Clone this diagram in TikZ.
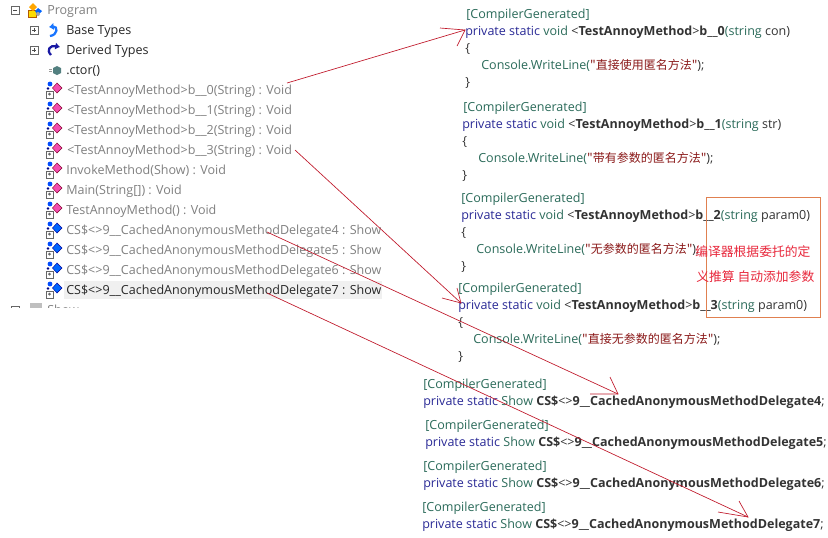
\documentclass[tikz,border=0pt]{standalone}
\usepackage{fontspec}
\setmainfont{Open Sans}
\newfontfamily\cjk{Noto Sans CJK SC}
\usetikzlibrary{arrows.meta}
\definecolor{greytxt}{HTML}{808080}
\definecolor{kw}{HTML}{2A2A96}
\definecolor{ty}{HTML}{2B6B5A}
\definecolor{str}{HTML}{8B1A1A}
\definecolor{redline}{HTML}{C0182A}
\definecolor{boxline}{HTML}{E08050}
\definecolor{note}{HTML}{E8283C}
\newcommand{\kwd}[1]{\textcolor{kw}{#1}}
\newcommand{\typ}[1]{\textcolor{ty}{#1}}
\newcommand{\strg}[1]{\textcolor{str}{{\fontsize{9pt}{11pt}\cjk #1}}}
\tikzset{
  x=0.75pt,y=-0.75pt,
  tree/.style={anchor=base west,inner sep=0pt,font=\fontsize{9.4pt}{11pt}\selectfont,text=greytxt},
  treeblack/.style={tree,text=black!85},
  code/.style={anchor=base west,inner sep=0pt,font=\fontsize{9.4pt}{11pt}\selectfont,text=black!80},
  notetxt/.style={anchor=base west,inner sep=0pt,font=\fontsize{9.6pt}{11pt}\cjk,text=note},
  pointer/.style={draw=redline,line width=0.5pt},
  expander/.style={draw=black!60,fill=white,line width=0.5pt},
}
\newcommand{\expbox}[3]{%
  \draw[expander] (#1-4,#2-4) rectangle (#1+4,#2+4);
  \draw[black!70,line width=0.5pt] (#1-2,#2) -- (#1+2,#2);
  \ifnum#3=1 \draw[black!70,line width=0.5pt] (#1,#2-2) -- (#1,#2+2);\fi}
\newcommand{\badge}[2]{%
  \fill[blue!70!cyan] (#1-2,#2-6) circle (2.4);
  \draw[black!60,fill=white,line width=0.4pt] (#1-6,#2+1) rectangle (#1+1,#2+8);
  \fill[blue!50!black] (#1-4,#2-1.5) circle (1.4);
  \fill[black!60] (#1-2.5,#2+4) circle (1.5);}
\newcommand{\methicon}[2]{%
  \badge{#1}{#2}
  \fill[magenta!70!white,draw=purple!70!black,line width=0.3pt] (#1+5,#2-7) -- (#1+10,#2-2) -- (#1+5,#2+3) -- (#1+0.5,#2-2) -- cycle;}
\newcommand{\fieldicon}[2]{%
  \badge{#1}{#2}
  \fill[blue!60!cyan,draw=blue!60!black,line width=0.3pt] (#1+5,#2-7) -- (#1+10,#2-2) -- (#1+5,#2+3) -- (#1+0.5,#2-2) -- cycle;}
\begin{document}
\begin{tikzpicture}
\useasboundingbox (0,0) rectangle (828,537);
\fill[white] (0,0) rectangle (828,537);
% tree
\expbox{15}{10}{0}
\fill[yellow!80!orange,draw=orange!70!black,line width=0.3pt] (28,10) rectangle (36,17);
\fill[orange!70!yellow] (33,3) -- (37,7) -- (33,11) -- (29,7) -- cycle;
\fill[blue!60!cyan] (38,8) -- (42,11) -- (38,15) -- (35,11) -- cycle;
\fill[gray!70] (38,14) circle (2);
\node[tree] (prog) at (47,14) {Program};
\expbox{34}{30}{1}
\draw[blue!60!cyan!90,line width=1.7pt,-{Latex[length=3.5pt,width=5.5pt]}] (50,36) .. controls (58,35) and (58,26) .. (49,27);
\node[treeblack] (base) at (66,34) {Base Types};
\expbox{34}{50}{1}
\draw[blue!60!black!90,line width=1.7pt,-{Latex[length=3.5pt,width=5.5pt]}] (51,55) .. controls (46,50) and (50,45) .. (60,47);
\node[treeblack] (derived) at (66,54) {Derived Types};
\fill[teal!35!gray] (57,66) -- (61,68) -- (61,73) -- (57,75) -- (53,73) -- (53,68) -- cycle;
\draw[black!40,line width=0.4pt] (49,69) -- (52,69) (49,71) -- (52,71);
\node[treeblack] (ctor) at (66,74) {.ctor()};
\methicon{52}{90}\node[tree] (m0) at (67,94) {<TestAnnoyMethod>b\_\_0(String) : Void};
\methicon{52}{110}\node[tree] (m1) at (67,114) {<TestAnnoyMethod>b\_\_1(String) : Void};
\methicon{52}{130}\node[tree] (m2) at (67,134) {<TestAnnoyMethod>b\_\_2(String) : Void};
\methicon{52}{150}\node[tree] (m3) at (67,154) {<TestAnnoyMethod>b\_\_3(String) : Void};
\methicon{52}{170}\node[tree] (m4) at (66,174) {InvokeMethod(Show) : Void};
\methicon{52}{190}\node[tree] (m5) at (66,194) {Main(String[]) : Void};
\methicon{52}{210}\node[tree] (m6) at (66,214) {TestAnnoyMethod() : Void};
\fieldicon{52}{230}\node[tree] (f4) at (66,234) {CS\$<>9\_\_CachedAnonymousMethodDelegate4 : Show};
\fieldicon{52}{250}\node[tree] (f5) at (66,254) {CS\$<>9\_\_CachedAnonymousMethodDelegate5 : Show};
\fieldicon{52}{270}\node[tree] (f6) at (66,274) {CS\$<>9\_\_CachedAnonymousMethodDelegate6 : Show};
\fill[black!6] (64,281) rectangle (382,299);
\fieldicon{52}{290}\node[treeblack] (f7) at (66,294) {CS\$<>9\_\_CachedAnonymousMethodDelegate7 : Show};
\begin{scope}
\clip (0,300) rectangle (200,307);
\expbox{15}{310}{1}
\fill[gray!50] (30,303) rectangle (42,312);
\node[tree] (show) at (47,314) {Show};
\end{scope}
% code blocks
\node[code] (a0) at (466,18) {\typ{[CompilerGenerated]}};
\node[code] (s0) at (465,35) {\kwd{private static} \typ{void} <\textbf{TestAnnoyMethod}>\textbf{b\_\_0}\typ{(string} con)};
\node[code] (o0) at (465,52) {\{};
\node[code] (w0) at (481,69) {\typ{Console.WriteLine(}\strg{"直接使用匿名方法"});};
\node[code] (c0) at (465,86) {\}};
\node[code] (a1) at (463,111) {\typ{[CompilerGenerated]}};
\node[code] (s1) at (462,128) {\kwd{private static} \typ{void} <\textbf{TestAnnoyMethod}>\textbf{b\_\_1}\typ{(string} str)};
\node[code] (o1) at (462,145) {\{};
\node[code] (w1) at (478,162) {\typ{Console.WriteLine(}\strg{"带有参数的匿名方法"});};
\node[code] (c1) at (462,179) {\}};
\node[code] (a2) at (461,202) {\typ{[CompilerGenerated]}};
\node[code] (s2) at (461,219) {\kwd{private static} \typ{void} <\textbf{TestAnnoyMethod}>\textbf{b\_\_2}\typ{(string} param0)};
\node[code] (o2) at (461,236) {\{};
\node[code] (w2) at (476,253) {\typ{Console.WriteLine(}\strg{"无参数的匿名方法"});};
\node[code] (c2) at (461,270) {\}};
\node[code] (a3) at (458,292) {\typ{[CompilerGenerated]}};
\node[code] (s3) at (458,309) {\kwd{private static} \typ{void} <\textbf{TestAnnoyMethod}>\textbf{b\_\_3}\typ{(string} param0)};
\node[code] (o3) at (458,326) {\{};
\node[code] (w3) at (473,343) {\typ{Console.WriteLine(}\strg{"直接无参数的匿名方法"});};
\node[code] (c3) at (458,360) {\}};
\node[code] (a4) at (423,388) {\typ{[CompilerGenerated]}};
\node[code] (d4) at (423,405) {\kwd{private static} \typ{Show} \textbf{CS\$}<>\textbf{9\_\_CachedAnonymousMethodDelegate4};};
\node[code] (a5) at (425,429) {\typ{[CompilerGenerated]}};
\node[code] (d5) at (425,446) {\kwd{private static} \typ{Show} \textbf{CS\$}<>\textbf{9\_\_CachedAnonymousMethodDelegate5};};
\node[code] (a6) at (423,470) {\typ{[CompilerGenerated]}};
\node[code] (d6) at (423,487) {\kwd{private static} \typ{Show} \textbf{CS\$}<>\textbf{9\_\_CachedAnonymousMethodDelegate6};};
\node[code] (a7) at (422,511) {\typ{[CompilerGenerated]}};
\node[code] (d7) at (422,528) {\kwd{private static} \typ{Show} \textbf{CS\$}<>\textbf{9\_\_CachedAnonymousMethodDelegate7};};
% annotation
\draw[boxline,line width=0.6pt] (706.5,197) rectangle (820.5,317.5);
\node[notetxt] (n1) at (695,256) {编译器根据委托的定};
\node[notetxt] (n2) at (696,281) {义推算 自动添加参数};
% connectors
\coordinate (p0s) at (287,83); \coordinate (p0t) at (465,30);
\coordinate (p0a) at (440,28); \coordinate (p0b) at (457,46);
\coordinate (p3s) at (295,150); \coordinate (p3t) at (461,303);
\coordinate (p3a) at (457,288); \coordinate (p3b) at (442,298);
\coordinate (p4s) at (267,232); \coordinate (p4t) at (618,394);
\coordinate (p4a) at (610,377); \coordinate (p4b) at (590,394);
\coordinate (p7s) at (267,293); \coordinate (p7t) at (748,517);
\coordinate (p7a) at (739,501); \coordinate (p7b) at (718,512);
\foreach \k in {0,3,4,7}{
  \draw[pointer] (p\k s) -- (p\k t);
  \draw[pointer] (p\k a) -- (p\k t) -- (p\k b);
}
\end{tikzpicture}
\end{document}
